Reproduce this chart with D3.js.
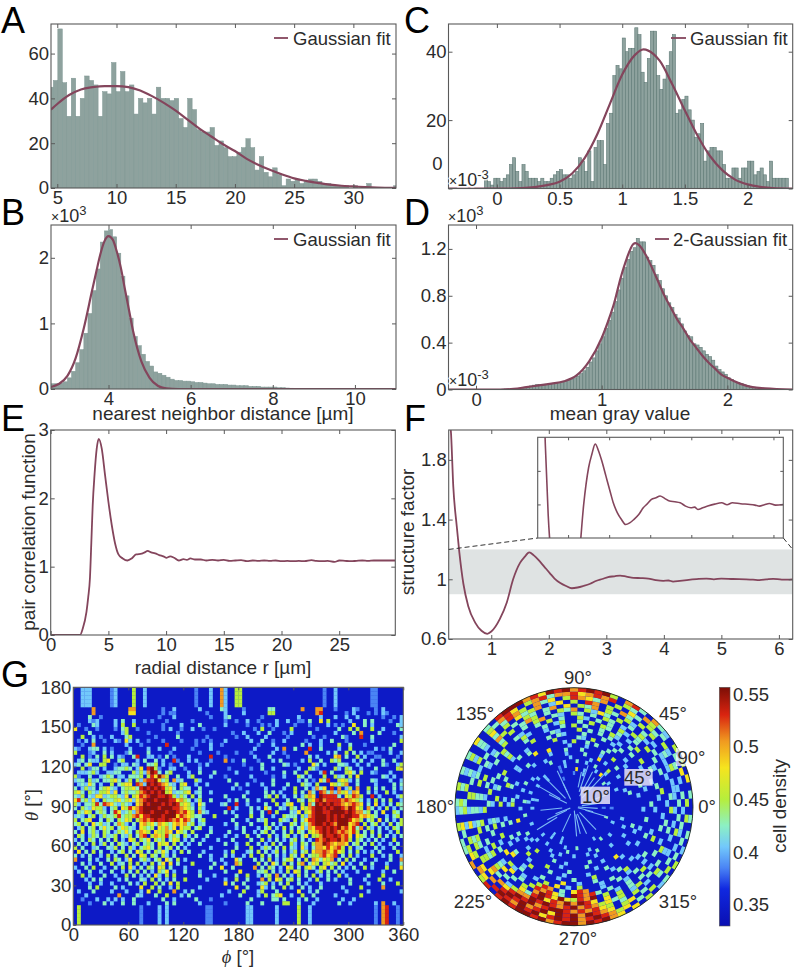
<!DOCTYPE html>
<html><head><meta charset="utf-8">
<script src="https://cdnjs.cloudflare.com/ajax/libs/d3/7.8.5/d3.min.js"></script>
<style>
html,body{margin:0;padding:0;background:#fff}
svg{display:block}
text{font-family:"Liberation Sans",Arial,sans-serif;fill:#2b2b2b}
</style></head><body>
<svg id="c" width="796" height="968"></svg>
<script>
// ---------- panel A ----------
const aStart = 4.29, aBin = 0.378;
const aCounts = [45,48,71,47,32,49,32,40,50,48,46,32,43,42,56,43,52,43,46,33,40,38,40,33,45,40,40,39,40,31,27,40,35,26,25,25,27,19,21,18,14,14,16,18,22,18,8,14,7,5,9,6,1,4,3,4,2,3,4,4,3,2,2,1,1,1,1,0,1,0,0,2,0,0,0,0,0,1];
const aFitX = [4.47,5,6,7,8,9,10,11,12,13,14,15,16,17,18,19,20,21,22,23,24,25,26,27,28,29,30,31,32,33.6];
const aFitY = [35,37.5,41.5,44,45,45.5,45.5,45,43.5,41,38,34.5,30.5,26.5,23,19.5,16.5,13,10.3,8,6,4.3,3.2,2.3,1.5,1,0.7,0.4,0.2,0.1];
// ---------- panel B ----------
const bStart = 2.6, bBin = 0.1;
const bCounts = [.08,.08,.09,.11,.17,.27,.40,.6,.85,1.15,1.5,1.83,2.24,2.41,2.43,2.32,2.07,1.72,1.42,1.08,.8,.66,.53,.42,.35,.26,.24,.21,.18,.15,.13,.13,.12,.12,.11,.10,.10,.09,.08,.08,.07,.07,.07,.06,.06,.05,.05,.05,.04,.04,.04,.03,.03,.03,.03,.02,.02,.015,.012,.01,.01,.01,.008,.008,.006,.006,.005,.005,.004,.004,.004,.003,.003,.003,.002,.002,.002,.002,.002,.001,.001,.001,.001,.001];
const bFitX = [2.6,2.8,3,3.2,3.4,3.6,3.7,3.8,3.9,4,4.1,4.2,4.3,4.4,4.5,4.6,4.8,5,5.2,5.4,5.7,11];
const bFitY = [.03,.08,.2,.47,.93,1.5,1.78,2.05,2.25,2.33,2.28,2.1,1.85,1.52,1.2,.88,.42,.17,.05,.01,0,0];
// ---------- panel C ----------
const cStart = -0.1, cBin = 0.025;
const cCounts = [3,2,1,3,3,2,3,4,7,9,5,2,7,5,3,3,3,2,3,2,2,3,4,5,5.5,4,4,3,4,5,9,8,5,11,2,12,14,14,7,19,22,33,36,35,44,40,41,41,47,45,34,31,38,46,46,33,29,32,36,40,45,22,23,26,27,23,20,15,16,19,8,11,12,12,11,11,7,3,3,6,6,3,6,6,8,8,4,5,6,4,2,8,3,3,3,3,3];
const cFitX = [-0.39,0.1,0.2,0.3,0.4,0.5,0.6,0.7,0.8,0.9,1,1.1,1.17,1.25,1.3,1.4,1.5,1.6,1.7,1.8,1.9,2,2.1,2.2,2.36];
const cFitY = [0,0,0.1,0.4,1,2,4.4,8.9,15.8,24.6,33.3,39,40.7,39.3,37.3,30.4,22.8,15.5,9.5,5.3,2.6,1.2,0.5,0.15,0];
// ---------- panel D ----------
const dStart = 0.2, dBin = 0.025;
const dCounts = [.003,.004,.003,.005,.007,.01,.012,.015,.02,.03,.037,.042,.04,.045,.045,.05,.05,.055,.06,.065,.07,.08,.09,.10,.115,.135,.16,.19,.235,.27,.33,.39,.45,.52,.59,.66,.75,.85,.95,1.04,1.11,1.18,1.21,1.29,1.26,1.26,1.13,1.10,1.06,.98,.93,.86,.80,.74,.70,.64,.61,.56,.50,.46,.45,.39,.38,.36,.33,.30,.28,.25,.20,.17,.15,.13,.10,.085,.07,.06,.05,.04,.032,.025,.02,.015,.012,.01,.007,.005,.004,.003,.002,.002,.001,.001];
const dFitX = [-0.22,0.2,0.3,0.4,0.5,0.6,0.7,0.8,0.9,1,1.05,1.1,1.15,1.2,1.25,1.27,1.3,1.35,1.4,1.45,1.5,1.55,1.6,1.65,1.7,1.75,1.8,1.85,1.9,1.95,2,2.1,2.2,2.3,2.52];
const dFitY = [0,0,.005,.02,.035,.05,.07,.12,.24,.44,.58,.74,.95,1.12,1.24,1.25,1.23,1.15,1.04,.92,.80,.70,.60,.52,.43,.36,.29,.23,.18,.13,.10,.05,.02,.01,0];
// ---------- panel E ----------
const eR = [0,1,2,2.4,2.54,2.77,3.1,3.25,3.4,3.52,3.64,3.8,3.99,4.16,4.42,4.71,5,5.29,5.58,5.87,6.24,6.65,7.02,7.4,7.89,8.15,8.4,8.7,9.05,9.4,9.77,10.05,10.35,10.7,11.1,11.5,11.8,12.1,12.5,13,13.5,14,14.5,15,15.5,16,16.5,17,17.5,18,18.5,19,19.5,20,20.5,21,21.5,22,22.6,23,23.5,24,24.6,25,25.5,26,26.5,27,27.5,28,28.5,29,29.86];
const eG = [0,0,0,0,0,.09,.34,.55,.83,1.35,1.9,2.35,2.73,2.87,2.73,2.34,1.95,1.61,1.34,1.18,1.12,1.09,1.12,1.18,1.19,1.21,1.23,1.21,1.195,1.17,1.15,1.13,1.15,1.13,1.09,1.11,1.10,1.12,1.105,1.105,1.09,1.10,1.09,1.10,1.085,1.09,1.095,1.08,1.09,1.085,1.09,1.085,1.09,1.08,1.085,1.08,1.085,1.08,1.095,1.085,1.08,1.085,1.07,1.09,1.085,1.08,1.085,1.09,1.085,1.09,1.09,1.09,1.09];
// ---------- panel F ----------
const fQ = [.26,.3,.34,.4,.445,.515,.6,.72,.83,.93,1,1.15,1.27,1.38,1.5,1.58,1.66,1.74,1.82,1.92,2.02,2.1,2.2,2.3,2.4,2.5,2.6,2.72,2.83,2.93,3.03,3.14,3.24,3.35,3.47,3.6,3.73,3.86,3.99,4.08,4.16,4.28,4.4,4.57,4.74,4.87,5,5.2,5.43,5.55,5.66,5.78,5.9,6.05,6.24];
const fS = [2.1,1.98,1.62,1.355,1.18,.97,.82,.71,.655,.635,.65,.735,.845,1,1.11,1.15,1.18,1.16,1.13,1.085,1.04,1.005,.975,.955,.94,.945,.955,.97,.99,1.002,1.015,1.02,1.025,1.018,1.01,1.008,1.005,.995,.99,.992,.985,.99,.995,1.001,1.005,.999,1.005,1.002,1,.998,.995,.999,1.003,.998,1];
// ---------- panel G ----------
const phiLabels = [0,60,120,180,240,300,360];
const thetaLabels = [0,30,60,90,120,150,180];
const densityLevels = [0.345,0.385,0.405,0.425,0.45,0.48,0.505,0.53,0.552];
const thetaRows = [
"0022200000 1200004002 0000000000 0001000200 6200440000 0000000000 0000000010 0200000000 0110000000",
"0022200000 1200004002 0000000000 0001000200 6200440000 0000000000 0000000010 0200000000 0110000000",
"0022200000 1200004002 0000000000 0001000200 6200440000 0000000000 0000000010 0200000000 0110000000",
"0022200000 1200004002 0000000000 0001000200 6200440000 0000000000 0000000010 0200000000 0110000000",
"0022200000 1200004002 0000000000 0001000200 6200440000 0000000000 0000000010 0200000000 0110000000",
"0000060000 0000066000 0000100200 0000200000 3200001000 0003300000 0060006600 0100002100 0010200000",
"0000060000 0000055000 0000101100 0000001000 0200002000 0004400000 0000006700 0000102000 1010210000",
"0000300100 0000000000 0001000200 0000000100 0230000000 0100000000 0200000200 0200200200 0000100102",
"0000212000 0203002001 0100010000 0010000000 0100100200 1000020020 0110300504 0000020003 0300001002",
"0100032000 0204004000 0000100002 0000300000 0200000100 0101020000 1000100002 0101005003 0200000032",
"5001001000 0103400100 0000102001 0020010010 0000000001 0400100004 0000001000 0030040400 0400200003",
"0000300000 0002400000 1000000010 0000000000 0001002000 2003000102 0000300000 0200003060 0003000100",
"0040020100 2000340000 0010000030 0000001000 0000100200 0020000010 0000010010 0003100070 0300000002",
"0102030010 0210520200 1000100001 0001010100 0200000020 0300100200 0001000200 3000100000 0200000004",
"0010060000 0000200010 0000070000 0001000200 1000000000 1000200000 0030200200 0040030001 0000000300",
"2100233020 1000020000 2002000200 0010000200 0000000002 0000020600 3000700300 0020040000 0020103000",
"4000120030 2000130000 3000001000 0000100001 0000100010 0000200100 0006000002 0300403020 1100002002",
"0040103040 3021003700 2201030100 0200000700 0100000002 0003000010 0000302000 0560300402 0011000010",
"0230322045 0034000203 0030200710 0202000100 0601003000 1000203000 0020400300 4340002030 0200300300",
"2303500440 0102203200 3340201003 0000102000 0000001000 0300000320 1000053020 0033200200 2000310024",
"0040133020 0233430250 7841002200 1000200000 0010000010 0300200000 0200431000 0420430020 0030000045",
"0222342002 2330004242 6873034000 0200300030 0000200000 0010000300 3004000270 3000453040 0210002000",
"4100300234 3022033340 4758640030 0240000200 0100000020 0000100200 0430200040 0423040500 0000320200",
"2330423033 4530240426 7785340623 0004200000 0030000001 0000300000 0203010537 0045420300 0320002002",
"0232530200 4034550762 8787653204 5002002000 0000300200 0200300030 0043204000 5434600300 0020000303",
"3024230345 3203445378 7878745304 3300300000 0002010000 0020000200 4003026350 7060240600 4030300302",
"4530432445 2503433467 8787845233 4502300200 0000000200 0030302000 4030630763 6264526500 3020040200",
"3240325523 4432504576 7887787424 3040300000 0300003000 0034040200 3024650877 7730547640 0702000024",
"5734252043 3453452567 8878887756 4302400300 0020300300 2000400030 0430457867 7776765430 2040304002",
"4203347376 5324320568 7888787874 5420530000 2300700200 0030040245 0040638787 8776567650 3050203043",
"3043254420 3405475678 8887888776 5430420000 0070200030 2053003204 3054678878 7887687540 6302040203",
"0435403430 3752342678 8788878876 7540632000 0302000030 0307040003 2504578877 8888787663 4030500430",
"2320340243 3473446757 7888788857 6543300040 0000300040 0300200433 3042678887 8787887756 5430020340",
"4034500304 3043540467 6787787675 7630340000 0003000200 3240004320 4035778887 8788875640 3405030204",
"3403053423 0364203056 4536543565 6340230000 0200300030 0040302004 3043678878 7688856704 0340204034",
"0240340353 4035432054 3405463505 4403400200 0000203000 2034020403 0352657787 8786757360 4203020430",
"3050342043 0243530465 4054465054 3040000300 0030003002 0340300304 0430456787 8767657403 0403002040",
"0430243042 3403240367 0465473430 4203003000 0200200400 3004020340 2035044687 7876750543 0304030203",
"2030430303 0402054043 5043403540 2030020002 0003000030 0402030203 4030207678 7786740430 2030200400",
"0302040240 3043203403 4305450403 0200300000 0300200400 3020403004 2043046687 6566503403 0402002030",
"4030023003 2403042034 5304034030 2000000200 0000300040 0243030403 2052036657 5674040230 0030200300",
"0503040300 2034030540 3043530204 0300020000 0204000230 4030240302 4034056676 5754030402 0203000040",
"3020300204 0300403054 0430420300 0000300200 0302002040 0403030204 3050344675 6703040200 0400203002",
"6000302003 0430250034 2034053040 2000000200 2000530003 0304020345 0304065354 6030403002 0020003006",
"0030200300 4023040402 0403505030 0040000030 0200640000 4030530403 0460354045 3405020030 0300020003",
"2003040020 0304052030 4305403000 2000000300 5003000006 0304302054 0304530450 4030203004 0200040005",
"0200300200 3002030403 0204350200 3000200000 0300050000 3340302040 5403002403 0302000200 0000200300",
"0040200030 0200403020 3052040400 0000300020 0000300400 2034060302 0403040203 0040200000 3000400000",
"0002030300 0020300032 0403020300 4000002000 0200400300 0604054034 0300204003 0200030002 0004002000",
"0000200200 2000030204 0040305040 0000000000 0503003000 2340203040 0302000200 0000030000 2000300040",
"0000304000 0302000050 0403002040 0000200000 0000500300 0520300402 0030200300 0002000040 0000600000",
"0200030000 2000200020 5004000600 2030000000 0020004000 2400030000 0500203000 0000200000 2000000002",
"0002000000 0060000320 0030040002 0300000000 2000030000 2040345002 0040030000 0200000040 0000000000",
"0010002002 0202003000 0000300200 0003000100 0000000030 0000330300 0203002000 0002002000 0000000000",
"0000100030 2003003000 2000030300 0000200000 0100000300 0300000440 0300020000 0030020000 0020600200",
"0400000000 0000000010 0002020000 0000001100 0000000220 0000020000 0400200000 0000000000 0010670010",
"0400000000 0000000010 0002020000 0000001100 0000000220 0000020000 0400200000 0000000000 0010670010",
"0400000000 0000000010 0002020000 0000001100 0000000220 0000020000 0400200000 0000000000 0010670010",
"0400000000 0000000010 0002020000 0000001100 0000000220 0000020000 0400200000 0000000000 0010670010",
"0400000000 0000000010 0002020000 0000001100 0000000220 0000020000 0400200000 0000000000 0010670010"
];
const polarRings = [
"0000000000 0000000000 0000000000 0000000000 0000000000 0000000000 0000000000 0000000000 0000000000",
"0000000000 0000000000 0000000000 0000000000 0000000000 0000000000 0000000000 0000000000 0000000000",
"0000000000 0000000000 0000000000 0000000000 0000000000 0000000000 0000000000 0000000000 0000000000",
"0000000000 0000000000 0000000000 0000000000 0000000000 0000000000 0000000000 0000000000 0000000000",
"0000000000 0000000000 0000000000 0000000000 0000000000 0000000000 0000000000 0000000000 0000000000",
"0000000000 0000000000 0000000000 0000000000 0000000000 0000000000 0000000000 0000000000 0000000000",
"0000000000 0000000000 0000000000 0000000000 0000000000 0000000000 0000000000 0000000000 0000000000",
"0000000000 0000000000 0000000100 0000000000 0000000000 0000000000 0000000000 0000000000 0000000001",
"0000000000 0000000020 0010000000 0000000000 0000000000 0000000020 0020000000 0000000000 0000030000",
"0000000003 0000000020 0500000100 0002000000 0020000000 0000000020 0020000000 0000020000 0000000001",
"0000000020 0050200000 0000020100 0002000200 0020020000 0000020000 0000200030 0000000300 0000200000",
"0000020000 0200030020 0300020000 0000020000 2002000000 2000000020 0000030000 0020000000 2000000000",
"0000000000 0400000200 0002000003 0000002000 0003000300 0000020000 2002000200 0200300000 0000002000",
"0000200020 0002050003 0000200000 2000000030 2000020000 0030200000 0200000000 0002000020 0000200000",
"0003000000 3000020000 3000300020 0002000000 0020000050 0002000400 0030020000 0300000000 0020000000",
"0000002000 0040030002 0002000050 0000300002 0003400000 0300020000 0000200000 3000200000 0000030000",
"0020000002 0000300303 0040200000 0500002000 3000200030 0020004000 0400003000 0020000500 0200200000",
"0000300000 2003000040 2300004000 0030002000 4002000200 0300000200 0030020000 2000300020 0000020002",
"0002000000 0030203000 3000230300 0020300003 0000400030 0020300040 0000200300 0400020000 0020000300",
"3000000200 3002030303 0400023000 4000020040 0304000200 4000500200 0300050020 0300003002 0000300000",
"0000200040 0300240300 3040300200 0300040003 0200200340 0205000300 2040502040 0020300400 2000020002",
"0203003000 4020303404 0300420300 2400030000 3040300203 0030042020 0476030576 0020030200 0300400000",
"0040002000 0302403030 2400304030 0230040300 0302040030 0400205030 4767530876 7303002030 2000003020",
"2000030304 0340203403 0340230640 3000403020 4003020400 3040350304 0687585476 8040203004 0030200300",
"0300200030 2403040352 4063403046 3040302030 0403030340 0230403005 3785768687 5050403030 2004003004",
"0222022202 0302403406 3405063034 0304600302 3004030204 3040630246 6878767867 6453402403 0302020202",
"3020040300 4040360406 7040520643 5040302040 2304020503 4040506578 7867887676 7540304020 4002004030",
"0302030240 3403504063 5674053604 6730503020 3040340204 0405060787 8678587868 7650450300 3030202302",
"4000503003 0460340767 6576637640 5763403040 2030430530 4506507876 8785787867 8764503040 0403030040",
"0305040402 3603760487 8768785768 8870305030 3040320403 3060470787 8878678868 7865050402 3040203030"
];
// each streak: angle in degrees, inner and outer radius in ring units
const polarStreaks = [[71,4,11],[62,3,10],[47,3,11],[55,5,9],[78,5,9],[115,2,6.5],[115,4,10],[135,3,10],[150,4,10],[154,2,7],[186,3,8.5],[206,2,7.5],[201,1,5],[212,5,11],[245,2,7],[275,1,7.5],[283,2,7],[295,2,7.5],[314,2,8],[343,3,8.5],[345,1,5],[356,1,6],[8,2,6.5],[20,5,9]];
const polarAngleLabels = [["90°",578,677],["135°",475,713],["45°",673,713],["180°",435,806],["0°",707,806],["225°",473,901],["315°",678,901],["270°",578,938]];
const barTicks = [0.35,0.4,0.45,0.5,0.55];

// ---------- drawing ----------
const svg = d3.select("#c");
const FS = 18.5, LINE = "#84455c", BOX = "#5a5a5a", BAR = "#8ea29e", BAREDGE = "#6d8783";
let clipN = 0;
function panel(o){
  const x = d3.scaleLinear().domain(o.xd).range([o.l,o.r]);
  const y = d3.scaleLinear().domain(o.yd).range([o.b,o.t]);
  const id = "clip"+(clipN++);
  svg.append("clipPath").attr("id",id).append("rect").attr("x",o.l).attr("y",o.t).attr("width",o.r-o.l).attr("height",o.b-o.t);
  const g = svg.append("g").attr("clip-path",`url(#${id})`);
  return {x,y,g,o,id};
}
function frame(p,xfmt,yfmt,xTicks,yTicks,tick=4,fs=FS){
  const {x,y,o}=p;
  const ax=(gen,tx,ty,vals,fmt,pad)=>{
    const a=svg.append("g").attr("transform",`translate(${tx},${ty})`)
      .call(gen.tickValues(vals).tickSizeInner(-tick).tickSizeOuter(0).tickPadding(pad).tickFormat(fmt));
    a.select(".domain").remove();
    a.selectAll("line").attr("stroke",BOX).attr("stroke-width",1);
    a.selectAll("text").attr("font-size",fs).style("font-family",'"Liberation Sans",Arial,sans-serif').attr("fill","#2b2b2b");
    return a;
  };
  const none=()=>"";
  const bx=ax(d3.axisBottom(x),0,o.b,xTicks,xfmt||(d=>d),o.xpad??3);
  ax(d3.axisTop(x),0,o.t,xTicks,none,0);
  const ly=ax(d3.axisLeft(y),o.l,0,yTicks,yfmt||(d=>d),o.ypad??2);
  ax(d3.axisRight(y),o.r,0,yTicks,none,0);
  svg.append("rect").attr("x",o.l).attr("y",o.t).attr("width",o.r-o.l).attr("height",o.b-o.t)
    .attr("fill","none").attr("stroke",BOX).attr("stroke-width",1.1);
  return {bx,ly};
}
function hist(p,counts,start,bin,edge=BAREDGE,ew=0.6,fill=BAR){
  p.g.append("g").selectAll("rect").data(counts).join("rect")
    .attr("x",(d,i)=>p.x(start+i*bin))
    .attr("width",(d,i)=>p.x(start+(i+1)*bin)-p.x(start+i*bin))
    .attr("y",d=>p.y(d)).attr("height",d=>p.y(p.o.yd[0])-p.y(d))
    .attr("fill",fill).attr("stroke",edge).attr("stroke-width",ew);
}
function curve(p,xs,ys,w=2,cv=d3.curveMonotoneX,g=p.g){
  const line=d3.line().x(d=>p.x(d[0])).y(d=>p.y(d[1])).curve(cv);
  g.append("path").attr("d",line(d3.zip(xs,ys))).attr("fill","none").attr("stroke",LINE).attr("stroke-width",w);
}
function legend(x1,x2,y,tx,label){
  svg.append("line").attr("x1",x1).attr("x2",x2).attr("y1",y).attr("y2",y).attr("stroke",LINE).attr("stroke-width",1.8);
  svg.append("text").attr("x",tx).attr("y",y+7).attr("font-size",18.5).text(label);
}
function letter(s,x,y){svg.append("text").attr("x",x).attr("y",y).attr("font-size",36).attr("fill","#000").style("fill","#000").text(s);}
function label(s,x,y,rot,opts={}){
  const t=svg.append("text").attr("text-anchor","middle").attr("font-size",opts.fs||19);
  if(rot) t.attr("transform",`translate(${x},${y}) rotate(-90)`); else t.attr("x",x).attr("y",y);
  t.text(s); return t;
}
function sci(x,y,exp,halo){
  const t=svg.append("text").attr("x",x).attr("y",y);
  if(halo) t.attr("stroke","#fff").attr("stroke-opacity",.75).attr("stroke-width",3).attr("paint-order","stroke");
  t.append("tspan").attr("font-size",14).text("×");
  t.append("tspan").attr("font-size",18).text("10");
  t.append("tspan").attr("font-size",13).attr("dy",-7).text(exp);
}

// A
let p=panel({l:51,r:396,t:24,b:188,xd:[4.47,33.6],yd:[0,73.2]});
hist(p,aCounts,aStart,aBin,"#7f9793",0.5); curve(p,aFitX,aFitY,2.2);
frame(p,null,null,[5,10,15,20,25,30],[0,20,40,60]);
legend(274,288,38,293,"Gaussian fit");
// B
p=panel({l:51,r:396,t:225,b:389,xd:[2.6,11],yd:[0,2.5]});
hist(p,bCounts,bStart,bBin,"#7f9793",0.5); curve(p,bFitX,bFitY,2.2);
frame(p,null,d3.format("d"),[4,6,8,10],[0,1,2]);
legend(274,288,239,293,"Gaussian fit");
sci(51,222,"3");
label("nearest neighbor distance [µm]",223,420);
// C
p=panel({l:448.5,r:792.7,t:24,b:188.5,xd:[-0.386,2.36],yd:[0,48.1]});
hist(p,cCounts,cStart,cBin,"#5f7a76",0.6); curve(p,cFitX,cFitY,2.2);
let fc=frame(p,null,null,[0,.5,1,1.5,2],[0,20,40]);
fc.ly.selectAll(".tick text").filter(d=>d===0).attr("transform","translate(-4,-25)");
legend(671,686,38,690,"Gaussian fit");
sci(449,186,"-3",true);
// D
p=panel({l:448.5,r:792.7,t:225,b:389.5,xd:[-0.219,2.52],yd:[0,1.404]});
hist(p,dCounts,dStart,dBin,"#5f7a76",0.6); curve(p,dFitX,dFitY,2.2);
frame(p,d3.format("d"),d=>d===0?"0":d3.format(".1f")(d),[0,1,2],[0,.4,.8,1.2]);
legend(655,669,239,673,"2-Gaussian fit");
sci(448,222,"3");
sci(449,386,"-3",true);
label("mean gray value",620,420);
// E
p=panel({l:50.7,r:395.3,t:430,b:635,xd:[0,29.86],yd:[0,3]});
curve(p,eR,eG,1.8);
frame(p,null,d3.format("d"),[0,5,10,15,20,25],[0,1,2,3]);
label("pair correlation function",34.5,532,true);
label("radial distance r [µm]",223,674);
// F
p=panel({l:448.7,r:792.7,t:430,b:639,xd:[0.26,6.24],yd:[0.6,2]});
p.g.append("rect").attr("x",p.x(0.26)).attr("width",p.x(6.24)-p.x(0.26)).attr("y",p.y(1.2)).attr("height",p.y(.9)-p.y(1.2)).attr("fill","#dfe3e3");
curve(p,fQ,fS,1.8);
frame(p,d3.format("d"),d=>d==1?"1":d3.format(".1f")(d),[1,2,3,4,5,6],[.6,1,1.4,1.8],4);
const yT=p.y(1.2);
[[448.7,537.7,yT,538],[783.3,792.7,538,yT]].forEach(a=>svg.append("line").attr("x1",a[0]).attr("x2",a[1]).attr("y1",a[2]).attr("y2",a[3]).attr("stroke","#333").attr("stroke-width",1).attr("stroke-dasharray","5 3"));
label("structure factor",414,532,true);
// F inset
svg.append("rect").attr("x",537.7).attr("y",437.3).attr("width",245.6).attr("height",100.7).attr("fill","#fff");
p=panel({l:537.7,r:783.3,t:437.3,b:538,xd:[0.26,6.24],yd:[0.9,1.2]});
curve(p,fQ,fS,1.6);
frame(p,()=>"",()=>"",[1,2,3,4,5,6],[1,1.1],3);

// colour
const jet=["#0a0fb2","#1028e0","#4a84f5","#72c8fb","#8cf0c4","#b6ee3c","#f6e41e","#f09a20","#d92410","#7c0e06"];
const jetDom=[.33,.365,.385,.405,.425,.45,.48,.505,.53,.556];
const colour=d3.scaleLinear().domain(jetDom).range(jet).clamp(true);
const levelOf=c=>densityLevels[+c||0];
const cells=s=>Array.from(s.replace(/ /g,"")).map((c,j)=>({c,j})).filter(d=>d.c!=="0");
// G left
const hm=panel({l:73.3,r:403.3,t:687.3,b:925,xd:[0,360],yd:[0,180]});
const nCols=thetaRows[0].replace(/ /g,"").length;
const dPhi=360/nCols, dTh=180/thetaRows.length;
hm.g.append("rect").attr("x",73.3).attr("y",687.3).attr("width",330).attr("height",237.7).attr("fill",colour(levelOf(0)));
thetaRows.forEach((r,i)=>{
  const th=180-i*dTh;
  hm.g.append("g").selectAll("rect").data(cells(r)).join("rect")
    .attr("x",d=>hm.x(d.j*dPhi)).attr("y",hm.y(th))
    .attr("width",hm.x(dPhi)-hm.x(0)+.2).attr("height",hm.y(0)-hm.y(dTh)+.2)
    .attr("fill",d=>colour(levelOf(d.c)));
});
frame(hm,null,null,phiLabels,thetaLabels,3);
svg.append("text").attr("x",238).attr("y",963).attr("text-anchor","middle").attr("font-size",18.5)
  .html('<tspan font-style="italic" style="font-family:\'Liberation Serif\'">ϕ</tspan> [°]');
svg.append("text").attr("transform","translate(38,805) rotate(-90)").attr("text-anchor","middle").attr("font-size",18.5)
  .html('<tspan font-style="italic" style="font-family:\'Liberation Serif\'">θ</tspan> [°]');

// G polar
const cx=574, cy=806.7, R=119;
const rad=d3.scaleLinear().domain([0,polarRings.length]).range([0,R]);
const ang=d3.scaleLinear().domain([0,90]).range([Math.PI/2,Math.PI/2-2*Math.PI]);
const pg=svg.append("g").attr("transform",`translate(${cx},${cy})`);
pg.append("circle").attr("r",R).attr("fill",colour(levelOf(0)));
const arc=d3.arc();
polarRings.forEach((r,i)=>{
  pg.append("g").selectAll("path").data(cells(r)).join("path")
    .attr("d",d=>arc({innerRadius:rad(i),outerRadius:rad(i+1),startAngle:ang(d.j),endAngle:ang(d.j+1)}))
    .attr("fill",d=>colour(levelOf(d.c)));
});
const radial=d3.lineRadial().angle(d=>Math.PI/2-d[0]*Math.PI/180).radius(d=>rad(d[1]));
pg.append("g").selectAll("path").data(polarStreaks).join("path")
  .attr("d",s=>radial([[s[0],s[1]],[s[0],s[2]]]))
  .attr("stroke","#7dbcf5").attr("stroke-width",1.1).attr("fill","none");
pg.append("circle").attr("r",R).attr("fill","none").attr("stroke","#1d2a1d").attr("stroke-width",.9);
// inner labels
[[583,297,668,347],[452,350,540,402]].forEach(b=>{
  svg.append("rect").attr("x",430+b[0]/3).attr("y",670+b[1]/3).attr("width",(b[2]-b[0])/3).attr("height",(b[3]-b[1])/3).attr("fill","#e9e6f7").attr("fill-opacity",.85);
});
svg.append("rect").attr("x",676).attr("y",748).attr("width",28).attr("height",18).attr("fill","#fff").attr("fill-opacity",.7);
[["45°",638,777],["10°",596,796],["90°",691.5,757]].forEach(a=>svg.append("text").attr("x",a[1]).attr("y",a[2]).attr("dy",".36em").attr("text-anchor","middle").attr("font-size",18.5).attr("fill","#333").text(a[0]));
polarAngleLabels.forEach(a=>svg.append("text").attr("x",a[1]).attr("y",a[2]).attr("dy",".36em").attr("text-anchor","middle").attr("font-size",18.5).text(a[0]));

// colour bar
const cbY=d3.scaleLinear().domain([.33,.5566]).range([926,687.3]);
const defs=svg.append("defs");
const lg=defs.append("linearGradient").attr("id","jet").attr("x1",0).attr("x2",0).attr("y1",1).attr("y2",0);
jetDom.forEach((d,i)=>lg.append("stop").attr("offset",(d-.33)/(.556-.33)).attr("stop-color",jet[i]));
svg.append("rect").attr("x",719.3).attr("y",687.3).attr("width",10.7).attr("height",238.7).attr("fill","url(#jet)").attr("stroke","#555").attr("stroke-width",.6);
const cb=svg.append("g").attr("transform","translate(730,0)").call(d3.axisRight(cbY).tickValues(barTicks).tickSize(0).tickPadding(3).tickFormat(d=>String(d)));
cb.select(".domain").remove();
cb.selectAll("text").attr("font-size",18.5).style("font-family",'"Liberation Sans",Arial,sans-serif').attr("fill","#2b2b2b");
label("cell density",786,806,true);

// panel letters
letter("A",1,33); letter("B",1,225); letter("C",404,33); letter("D",404,225); letter("E",1,431); letter("F",404,431); letter("G",1,687);
</script>
</body></html>
